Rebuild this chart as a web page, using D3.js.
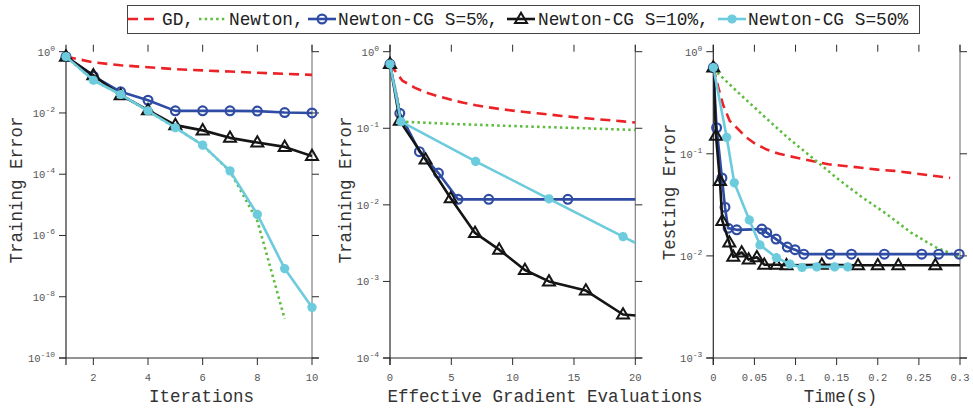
<!DOCTYPE html>
<html><head><meta charset="utf-8">
<script src="https://cdn.jsdelivr.net/npm/d3@7"></script>
<style>
body{margin:0;background:#fff}
svg{display:block}
</style></head>
<body><svg id="c" width="973" height="410"></svg>
<script>
// ---------------- DATA ----------------
const seriesNames = ["GD", "Newton", "Newton-CG S=5%", "Newton-CG S=10%", "Newton-CG S=50%"];

// Panel 1: Training error vs iterations
const iterations = [1,2,3,4,5,6,7,8,9,10];
const gdIter     = [0.69,0.45,0.36,0.31,0.27,0.245,0.225,0.205,0.19,0.175];
const newtonIter = [0.69,0.117,0.040,0.0117,0.0033,0.00089,0.000125,3e-6,1.9e-9];
const cg5Iter    = [0.69,0.158,0.049,0.026,0.0117,0.0117,0.0117,0.0115,0.0103,0.0100];
const cg10Iter   = [0.69,0.17,0.038,0.0123,0.0040,0.0027,0.00154,0.00108,0.00078,0.00039];
const cg50Iter   = [0.69,0.117,0.040,0.0117,0.0033,0.00089,0.000129,4.9e-6,8.3e-8,4.5e-9];

// Panel 2: Training error vs effective gradient evaluations
const gdEvalX = [0,1,2,3,4,5,6,7,8,9,10,11,12,13,14,15,16,17,18,19,20];
const gdEvalY = [0.69,0.42,0.34,0.29,0.26,0.235,0.215,0.2,0.188,0.178,0.17,0.163,0.157,0.151,0.145,0.14,0.135,0.131,0.127,0.123,0.119];
const newtonEvalX = [0,1,5,10,15,20];
const newtonEvalY = [0.69,0.122,0.114,0.107,0.101,0.095];
const cg5EvalX = [0,0.8,2.4,3.95,5.55,8.05,14.5,22];
const cg5EvalY = [0.69,0.157,0.0495,0.026,0.0118,0.0118,0.0118,0.0118];
const cg10EvalX = [0,0.8,2.9,4.95,6.93,8.9,11.0,12.96,15.97,19.0,22];
const cg10EvalY = [0.69,0.125,0.039,0.0122,0.0043,0.0026,0.00141,0.001,0.00076,0.00037,0.00034];
const cg50EvalX = [0,0.9,6.98,12.96,19.0,25];
const cg50EvalY = [0.69,0.122,0.037,0.012,0.00385,0.00123];

// Panel 3: Testing error vs time (s)
const gdTimeX = [0,0.006,0.012,0.02,0.03,0.04,0.05,0.065,0.08,0.1,0.12,0.14,0.16,0.18,0.2,0.22,0.24,0.26,0.288];
const gdTimeY = [0.70,0.45,0.30,0.21,0.175,0.145,0.127,0.11,0.1,0.092,0.085,0.079,0.076,0.073,0.070,0.068,0.065,0.062,0.058];
const newtonTimeX = [0,0.03,0.06,0.09,0.12,0.15,0.18,0.21,0.24,0.27,0.3];
const newtonTimeY = [0.68,0.40,0.24,0.145,0.092,0.058,0.038,0.026,0.017,0.0122,0.0097];
const cg5TimeX = [0,0.004,0.0105,0.0142,0.018,0.0285,0.059,0.065,0.0763,0.09,0.0994,0.11,0.142,0.168,0.208,0.2535,0.274,0.299];
const cg5TimeY = [0.70,0.18,0.058,0.030,0.0187,0.018,0.0183,0.0169,0.0146,0.0122,0.0115,0.0104,0.0104,0.0104,0.0104,0.0104,0.0104,0.0104];
const cg10TimeX = [0,0.0033,0.0081,0.011,0.0195,0.0243,0.0345,0.043,0.053,0.062,0.077,0.089,0.132,0.176,0.2,0.225,0.27,0.32];
const cg10TimeY = [0.70,0.15,0.054,0.022,0.0135,0.0098,0.0108,0.0092,0.0097,0.0082,0.0082,0.0081,0.0082,0.0081,0.0081,0.0081,0.0081,0.0081];
const cg50TimeX = [0,0.0163,0.0255,0.0438,0.0568,0.0768,0.0933,0.108,0.1258,0.1475,0.1635];
const cg50TimeY = [0.70,0.145,0.052,0.0225,0.0128,0.0096,0.0083,0.0077,0.0078,0.0078,0.0078];

const xTicks1 = [2,4,6,8,10];
const xTicks2 = [0,5,10,15,20];
const xTicks3 = [0,0.05,0.1,0.15,0.2,0.25,0.3];
const xTickLabels3 = ["0","0.05","0.1","0.15","0.2","0.25","0.3"];
const yExps1 = [0,-2,-4,-6,-8,-10];
const yExps2 = [0,-1,-2,-3,-4];
const yExps3 = [0,-1,-2,-3];

// ---------------- FONT (pick an installed monospace face) ----------------
function pickMono(){
  const cands = ["Liberation Mono","DejaVu Sans Mono","Noto Sans Mono","Courier New","Courier","Nimbus Mono PS","FreeMono"];
  const ctx = document.createElement("canvas").getContext("2d");
  for(const f of cands){
    ctx.font = `20px "${f}", serif`;
    const a = ctx.measureText("iiiiiiiiii").width, b = ctx.measureText("MMMMMMMMMM").width;
    if(Math.abs(a-b) < 0.5) return `"${f}", monospace`;
  }
  return "monospace";
}
const FONT = pickMono();

// ---------------- STYLE ----------------
const styles = [
  {color:"#ec2227", dash:"10,6", marker:null},
  {color:"#5ebd3e", dash:"2.5,3.2", marker:null},
  {color:"#2e4ca3", dash:null, marker:"circle"},
  {color:"#151515", dash:null, marker:"triangle"},
  {color:"#6ccbdc", dash:null, marker:"star"}
];

const svg = d3.select("#c").attr("font-family", FONT);
const TOP = 51.7, BOT = 358, TICK = 7;

function drawMarker(g, type, x, y, color){
  if(type === "circle"){
    g.append("circle").attr("cx",x).attr("cy",y).attr("r",4.4)
      .attr("fill","none").attr("stroke",color).attr("stroke-width",2.2);
  } else if(type === "triangle"){
    g.append("path").attr("d",`M${x},${y-6.3}L${x+6},${y+4}L${x-6},${y+4}Z`)
      .attr("fill","none").attr("stroke",color).attr("stroke-width",2)
      .attr("stroke-linejoin","miter");
  } else if(type === "star"){
    const r = 4.6;
    let d = "";
    for(let k=0;k<4;k++){
      const a = k*Math.PI/4;
      d += `M${x-r*Math.cos(a)},${y-r*Math.sin(a)}L${x+r*Math.cos(a)},${y+r*Math.sin(a)}`;
    }
    g.append("path").attr("d",d).attr("fill","none").attr("stroke",color).attr("stroke-width",3);
  }
}

let clipId = 0;
function drawPanel(cfg){
  const x = d3.scaleLinear().domain(cfg.xDomain).range([cfg.x0, cfg.x1]);
  const y = d3.scaleLog().domain(cfg.yDomain).range([BOT, TOP]);
  const g = svg.append("g");
  const id = "clip" + (clipId++);
  svg.append("defs").append("clipPath").attr("id", id).append("rect")
    .attr("x", cfg.x0).attr("y", TOP-12).attr("width", cfg.x1-cfg.x0).attr("height", BOT-TOP+12);

  const axisCol = "#2a2a2a", rightCol = "#808080", labCol = "#555";
  g.append("line").attr("x1",cfg.x0).attr("x2",cfg.x0).attr("y1",TOP-TICK).attr("y2",BOT+TICK).attr("stroke",axisCol).attr("stroke-width",1.2);
  g.append("line").attr("x1",cfg.x1).attr("x2",cfg.x1).attr("y1",TOP-TICK).attr("y2",BOT).attr("stroke",rightCol).attr("stroke-width",1.2);
  g.append("line").attr("x1",cfg.x0-TICK).attr("x2",cfg.x1+TICK).attr("y1",BOT).attr("y2",BOT).attr("stroke",axisCol).attr("stroke-width",1.2);

  cfg.xTicks.forEach((t,i) => {
    const px = x(t);
    g.append("line").attr("x1",px).attr("x2",px).attr("y1",TOP-TICK).attr("y2",TOP).attr("stroke",axisCol).attr("stroke-width",1);
    g.append("line").attr("x1",px).attr("x2",px).attr("y1",BOT).attr("y2",BOT+TICK).attr("stroke",axisCol).attr("stroke-width",1);
    g.append("text").attr("x",px).attr("y",380.5).attr("text-anchor","middle")
      .attr("font-size",10.5).attr("fill",labCol).text(cfg.xLabels ? cfg.xLabels[i] : String(t));
  });
  cfg.yExps.forEach(e => {
    const py = y(Math.pow(10,e));
    g.append("line").attr("x1",cfg.x0-TICK).attr("x2",cfg.x0).attr("y1",py).attr("y2",py).attr("stroke",axisCol).attr("stroke-width",1);
    g.append("line").attr("x1",cfg.x1).attr("x2",cfg.x1+TICK).attr("y1",py).attr("y2",py).attr("stroke",axisCol).attr("stroke-width",1);
    const t = g.append("text").attr("x",cfg.x0-11).attr("y",py+4).attr("text-anchor","end")
      .attr("font-size",10.5).attr("fill",labCol);
    t.append("tspan").text("10");
    t.append("tspan").attr("font-size",8).attr("dy",-5).text(String(e));
  });
  g.append("text").attr("x",cfg.xTitleX).attr("y",402).attr("text-anchor","middle")
    .attr("font-size",17.5).attr("fill","#333").text(cfg.xTitle);
  g.append("text").attr("transform",`translate(${cfg.yTitleX},${cfg.yTitleY}) rotate(-90)`)
    .attr("text-anchor","middle").attr("font-size",17.5).attr("fill","#333").text(cfg.yTitle);

  cfg.series.forEach((s,k) => {
    const st = styles[k];
    const pts = s.x.map((xv,i) => [xv, s.y[i]]);
    const line = d3.line().x(d => x(d[0])).y(d => y(d[1]));
    g.append("path").attr("d", line(pts)).attr("clip-path",`url(#${id})`)
      .attr("fill","none").attr("stroke",st.color).attr("stroke-width",2.6)
      .attr("stroke-dasharray", st.dash).attr("stroke-linejoin","round");
    if(st.marker){
      const mg = g.append("g");
      pts.filter(d => d[0] >= cfg.xDomain[0]-1e-9 && d[0] <= cfg.xDomain[1]+1e-9)
        .forEach(d => drawMarker(mg, st.marker, x(d[0]), y(d[1]), st.color));
    }
  });
}

drawPanel({
  x0:66, x1:312, xDomain:[1,10], yDomain:[1e-10,1], xTicks:xTicks1, yExps:yExps1,
  xTitle:"Iterations", xTitleX:201.5, yTitle:"Training Error", yTitleX:21.5, yTitleY:190,
  series:[
    {x:iterations, y:gdIter},
    {x:iterations.slice(0,newtonIter.length), y:newtonIter},
    {x:iterations, y:cg5Iter},
    {x:iterations, y:cg10Iter},
    {x:iterations, y:cg50Iter}
  ]
});
drawPanel({
  x0:390, x1:635.3, xDomain:[0,20], yDomain:[1e-4,1], xTicks:xTicks2, yExps:yExps2,
  xTitle:"Effective Gradient Evaluations", xTitleX:545, yTitle:"Training Error", yTitleX:350.5, yTitleY:190,
  series:[
    {x:gdEvalX, y:gdEvalY},
    {x:newtonEvalX, y:newtonEvalY},
    {x:cg5EvalX, y:cg5EvalY},
    {x:cg10EvalX, y:cg10EvalY},
    {x:cg50EvalX, y:cg50EvalY}
  ]
});
drawPanel({
  x0:713.3, x1:960, xDomain:[0,0.3], yDomain:[1e-3,1], xTicks:xTicks3, xLabels:xTickLabels3, yExps:yExps3,
  xTitle:"Time(s)", xTitleX:840.5, yTitle:"Testing Error", yTitleX:675, yTitleY:192,
  series:[
    {x:gdTimeX, y:gdTimeY},
    {x:newtonTimeX, y:newtonTimeY},
    {x:cg5TimeX, y:cg5TimeY},
    {x:cg10TimeX, y:cg10TimeY},
    {x:cg50TimeX, y:cg50TimeY}
  ]
});

// ---------------- LEGEND ----------------
const lg = svg.append("g");
lg.append("rect").attr("x",127.5).attr("y",5.5).attr("width",792).attr("height",28)
  .attr("fill","#fff").attr("stroke","#444").attr("stroke-width",1);
const legendSampleX = [128, 199, 308, 507, 718];
const legendTextX = [162, 229, 338, 538, 748];
const legendLabels = ["GD,", "Newton,", "Newton-CG S=5%,", "Newton-CG S=10%,", "Newton-CG S=50%"];
legendLabels.forEach((lab,k) => {
  const st = styles[k];
  const sx = legendSampleX[k], ex = sx + 28, ly = 19;
  lg.append("line").attr("x1",sx).attr("x2",ex).attr("y1",ly).attr("y2",ly)
    .attr("stroke",st.color).attr("stroke-width",2.6).attr("stroke-dasharray",st.dash);
  if(st.marker) drawMarker(lg, st.marker, (sx+ex)/2, ly, st.color);
  lg.append("text").attr("x",legendTextX[k]).attr("y",25).attr("font-size",17.8).attr("fill","#222").text(lab);
});
</script></body></html>
